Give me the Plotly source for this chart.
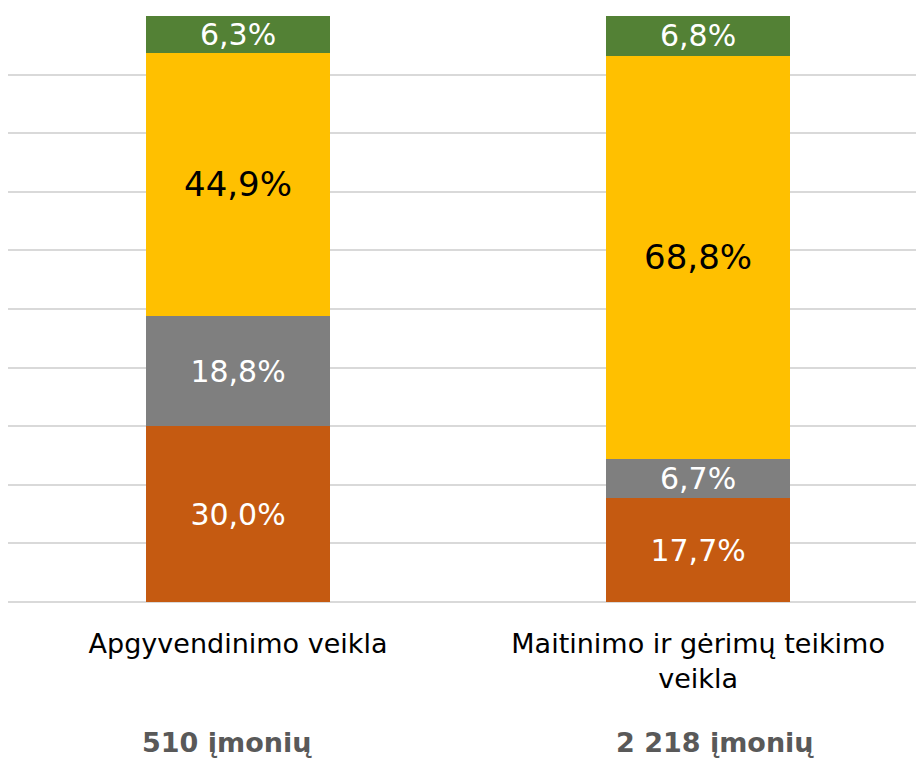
import plotly.graph_objects as go

kategorijos = ["Apgyvendinimo veikla", "Maitinimo ir gėrimų teikimo<br>veikla"]
imoniu_sk = ["510 įmonių", "2 218 įmonių"]

serija1 = [30.0, 17.7]
serija2 = [18.8, 6.7]
serija3 = [44.9, 68.8]
serija4 = [6.3, 6.8]

spalvos = ["#C55A11", "#7F7F7F", "#FFC000", "#538135"]
teksto_sp = ["white", "white", "black", "white"]
teksto_dydis = [30, 30, 34, 30]

x = [0, 1]
fig = go.Figure()
for vals, sp, tsp, td in zip([serija1, serija2, serija3, serija4], spalvos, teksto_sp, teksto_dydis):
    fig.add_trace(go.Bar(
        x=x, y=vals, width=0.4,
        marker=dict(color=sp, line=dict(width=0)),
        text=[f"{v:.1f}%".replace(".", ",") for v in vals],
        textposition="inside", insidetextanchor="middle",
        constraintext="none",
        textfont=dict(family="DejaVu Sans", size=td, color=tsp),
        showlegend=False, hoverinfo="skip",
    ))

for xi, t, dx in zip(x, imoniu_sk, [-11, 17]):
    fig.add_annotation(x=xi, y=0, xref="x", yref="paper", yshift=-157, xshift=dx,
                       text=f"<b>{t}</b>", showarrow=False,
                       font=dict(family="DejaVu Sans", size=27, color="#595959"))

# puslapis turi 8px body margin, todel figura mazesne
fig.update_layout(
    barmode="stack",
    width=916, height=750,
    margin=dict(l=0, r=0, t=7, b=155),
    plot_bgcolor="white", paper_bgcolor="white",
    font=dict(family="DejaVu Sans", color="black"),
    xaxis=dict(range=[-0.5, 1.491], tickvals=x, ticktext=kategorijos,
               tickfont=dict(size=27, color="black"), showgrid=False,
               showline=False, zeroline=False, ticks="", automargin=False,
               ticklabelstandoff=22),
    yaxis=dict(range=[-0.17, 100.17], dtick=10, showticklabels=False,
               gridcolor="#D9D9D9", gridwidth=2, zeroline=True,
               zerolinecolor="#D9D9D9", zerolinewidth=2, showline=False,
               automargin=False),
)

fig.write_html("out.html")
